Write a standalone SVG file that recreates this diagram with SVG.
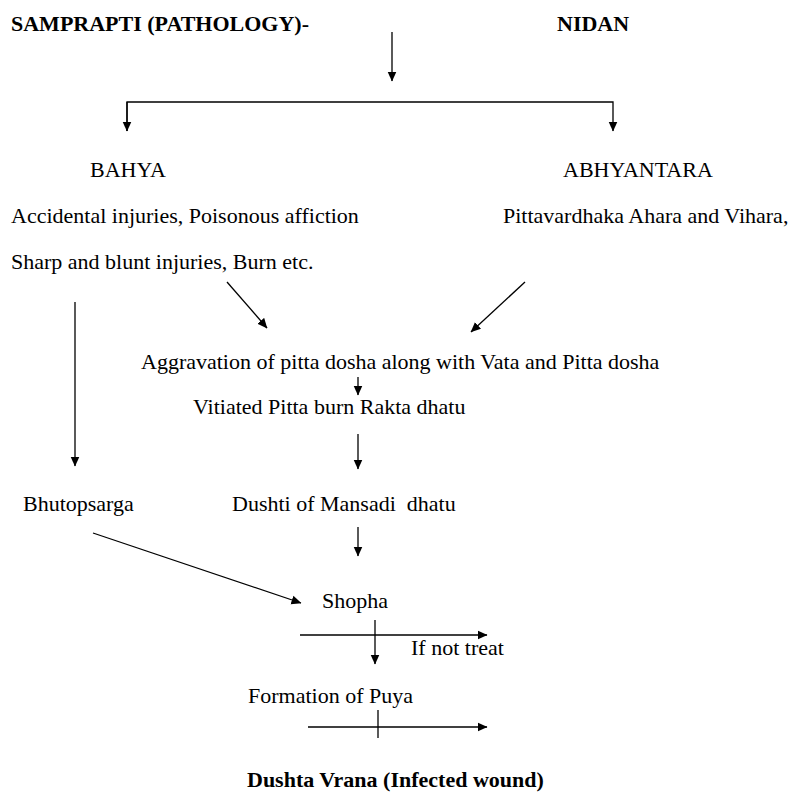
<svg xmlns="http://www.w3.org/2000/svg" width="795" height="796" viewBox="0 0 795 796">
<style>
text{font-family:"Liberation Serif","Times New Roman",serif;font-size:22px;fill:#000}
.b{font-weight:bold}
.c line,.c polyline{stroke:#000;stroke-width:1.3;fill:none}
</style>
<defs>
<marker id="ah" viewBox="0 0 10 10" refX="9.5" refY="5" markerWidth="10" markerHeight="10" markerUnits="userSpaceOnUse" orient="auto">
<path d="M0,0.5 L10,5 L0,9.5 z" fill="#000"/>
</marker>
</defs>
<rect width="795" height="796" fill="#fff"/>
<g id="title"><text class="b" x="11" y="31">SAMPRAPTI (PATHOLOGY)-</text></g>
<g id="nidan"><text class="b" x="557" y="31">NIDAN</text></g>
<g id="bahya"><text x="90" y="177">BAHYA</text></g>
<g id="abhyantara"><text x="563" y="177">ABHYANTARA</text></g>
<g id="bahya-causes">
<text x="11" y="223">Accidental injuries, Poisonous affiction</text>
<text x="11" y="269">Sharp and blunt injuries, Burn etc.</text>
</g>
<g id="abhyantara-causes"><text x="503" y="223">Pittavardhaka Ahara and Vihara,</text></g>
<g id="aggravation"><text x="141" y="369">Aggravation of pitta dosha along with Vata and Pitta dosha</text></g>
<g id="vitiated"><text x="193" y="414">Vitiated Pitta burn Rakta dhatu</text></g>
<g id="bhutopsarga"><text x="23" y="511">Bhutopsarga</text></g>
<g id="dushti"><text x="232" y="511" xml:space="preserve">Dushti of Mansadi  dhatu</text></g>
<g id="shopha"><text x="322" y="608">Shopha</text></g>
<g id="if-not-treat"><text x="411" y="655">If not treat</text></g>
<g id="puya"><text x="248" y="703">Formation of Puya</text></g>
<g id="dushta-vrana"><text class="b" x="247" y="787">Dushta Vrana (Infected wound)</text></g>
<g id="connectors" class="c">
<line x1="392" y1="32" x2="392" y2="81" marker-end="url(#ah)"/>
<polyline points="127,131 127,102 613,102 613,131" marker-end="url(#ah)"/>
<line x1="127" y1="102" x2="127" y2="131" marker-end="url(#ah)"/>
<line x1="227" y1="282" x2="267" y2="328" marker-end="url(#ah)"/>
<line x1="525" y1="282" x2="471" y2="332" marker-end="url(#ah)"/>
<line x1="75" y1="302" x2="75" y2="466" marker-end="url(#ah)"/>
<line x1="358" y1="377" x2="358" y2="395" marker-end="url(#ah)"/>
<line x1="358" y1="434" x2="358" y2="469" marker-end="url(#ah)"/>
<line x1="358" y1="527" x2="358" y2="556" marker-end="url(#ah)"/>
<line x1="93" y1="533" x2="301" y2="603" marker-end="url(#ah)"/>
<line x1="300" y1="635" x2="487" y2="635" marker-end="url(#ah)"/>
<line x1="375" y1="620" x2="375" y2="664" marker-end="url(#ah)"/>
<line x1="308" y1="727" x2="487" y2="727" marker-end="url(#ah)"/>
<line x1="378" y1="710" x2="378" y2="738"/>
</g>
</svg>
